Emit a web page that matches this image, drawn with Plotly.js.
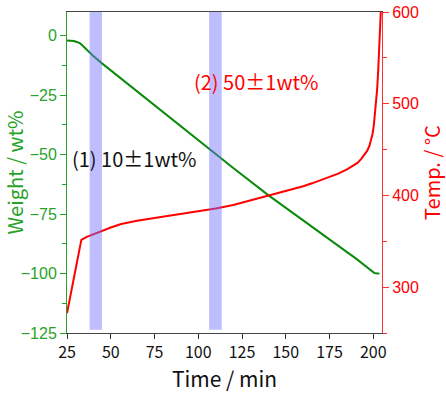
<!DOCTYPE html>
<html>
<head>
<meta charset="utf-8">
<script src="https://cdn.plot.ly/plotly-3.0.1.min.js"></script>
<style>html,body{margin:0;padding:0;background:#fff;}#chart{width:446px;height:393px;}</style>
</head>
<body>
<div id="chart"></div>
<script>
// Weight loss curve (time in min, weight change in wt%)
const weightTime = [25, 27, 29, 31, 32.5, 34, 36, 38, 40, 45, 60, 80, 100, 110, 120, 140, 160, 180, 186, 190, 194, 197, 199, 200.5, 202, 203.5];
const weightValues = [-2.0, -2.0, -2.2, -2.7, -3.2, -4.2, -5.7, -7.2, -8.5, -11.6, -20.4, -32.2, -44.0, -49.9, -55.6, -67.0, -77.8, -88.3, -91.5, -93.6, -96.0, -97.8, -99.0, -99.7, -100, -100];

// Temperature curve (time in min, °C)
const tempTime = [25, 33.2, 36, 40, 45, 50, 56, 65, 75, 87, 100, 110, 120, 130, 140, 150, 160, 165, 170, 175, 180, 185, 188, 191, 193, 195, 196.5, 197.8, 198.8, 199.6, 200.3, 201, 201.6, 202.2, 202.8, 203.4, 203.9, 204.3];
const tempValues = [271.6, 351.6, 354.5, 357.6, 361.5, 365, 368.8, 372.3, 375.3, 378.9, 382.5, 385.8, 389.5, 394.5, 400.3, 405, 410, 413.2, 416.5, 420, 423.8, 428.3, 431.5, 435.5, 439.5, 444, 448.5, 454, 460, 467, 476, 488, 500, 515, 535, 560, 585, 600];

// Highlighted sampling windows (min)
const bandStart = [37.9, 106.2];
const bandEnd = [45.0, 113.4];

// Annotation labels
const labels = ["(1) 10±1wt%", "(2) 50±1wt%"];

const green = '#0b8a0b';
const greenText = '#27a327';
const red = '#ff0000';
const cjk = '"Noto Sans CJK JP", "Liberation Sans", sans-serif';
const sans = '"Liberation Sans", Arial, sans-serif';

const traces = [
  {x: weightTime, y: weightValues, type: 'scatter', mode: 'lines', yaxis: 'y',
   line: {color: green, width: 2}, hoverinfo: 'skip', showlegend: false},
  {x: tempTime, y: tempValues, type: 'scatter', mode: 'lines', yaxis: 'y2',
   line: {color: red, width: 2}, hoverinfo: 'skip', showlegend: false}
];

const shapes = bandStart.map((s, i) => ({
  type: 'rect', xref: 'x', yref: 'paper', x0: s, x1: bandEnd[i], y0: 0.01, y1: 1,
  fillcolor: 'rgba(110,110,255,0.45)', line: {width: 0}, layer: 'above'
}));

const layout = {
  width: 446, height: 393,
  margin: {l: 67, r: 64, t: 12, b: 60},
  paper_bgcolor: '#ffffff', plot_bgcolor: '#ffffff',
  showlegend: false,
  xaxis: {
    range: [25, 205], tick0: 0, dtick: 25, ticks: 'outside', ticklen: 5, tickcolor: '#333',
    showline: true, linecolor: '#444', linewidth: 1, mirror: true,
    showgrid: false, zeroline: false,
    tickfont: {family: cjk, size: 16, color: '#111'},
    title: {text: 'Time / min', font: {family: cjk, size: 21, color: '#111'}, standoff: 6}
  },
  yaxis: {
    range: [-125, 10], tick0: 0, dtick: 25, ticks: 'outside', ticklen: 6, tickcolor: greenText,
    minor: {dtick: 12.5, ticks: 'outside', ticklen: 4, tickcolor: greenText, showgrid: false},
    showline: true, linecolor: greenText, linewidth: 1,
    showgrid: false, zeroline: false,
    tickfont: {family: sans, size: 16, color: greenText},
    title: {text: 'Weight / wt%', font: {family: cjk, size: 20, color: greenText}, standoff: 3}
  },
  yaxis2: {
    range: [250, 600], tick0: 0, dtick: 100, ticks: 'outside', ticklen: 6, tickcolor: '#ff3030',
    minor: {dtick: 50, ticks: 'outside', ticklen: 4, tickcolor: '#ff3030', showgrid: false},
    overlaying: 'y', side: 'right', anchor: 'x',
    showline: true, linecolor: '#ff3030', linewidth: 1,
    showgrid: false, zeroline: false,
    tickfont: {family: sans, size: 16, color: red},
    title: {text: 'Temp. / °C', font: {family: cjk, size: 20, color: red}, standoff: 5}
  },
  shapes: shapes,
  annotations: [
    {text: labels[0], xref: 'paper', yref: 'paper', x: 0.214, y: 0.545, showarrow: false,
     xanchor: 'center', yanchor: 'middle', font: {family: cjk, size: 20, color: '#111'}},
    {text: labels[1], xref: 'paper', yref: 'paper', x: 0.601, y: 0.783, showarrow: false,
     xanchor: 'center', yanchor: 'middle', font: {family: cjk, size: 20, color: red}}
  ]
};

Plotly.newPlot('chart', traces, layout, {staticPlot: true, displayModeBar: false});
</script>
</body>
</html>
